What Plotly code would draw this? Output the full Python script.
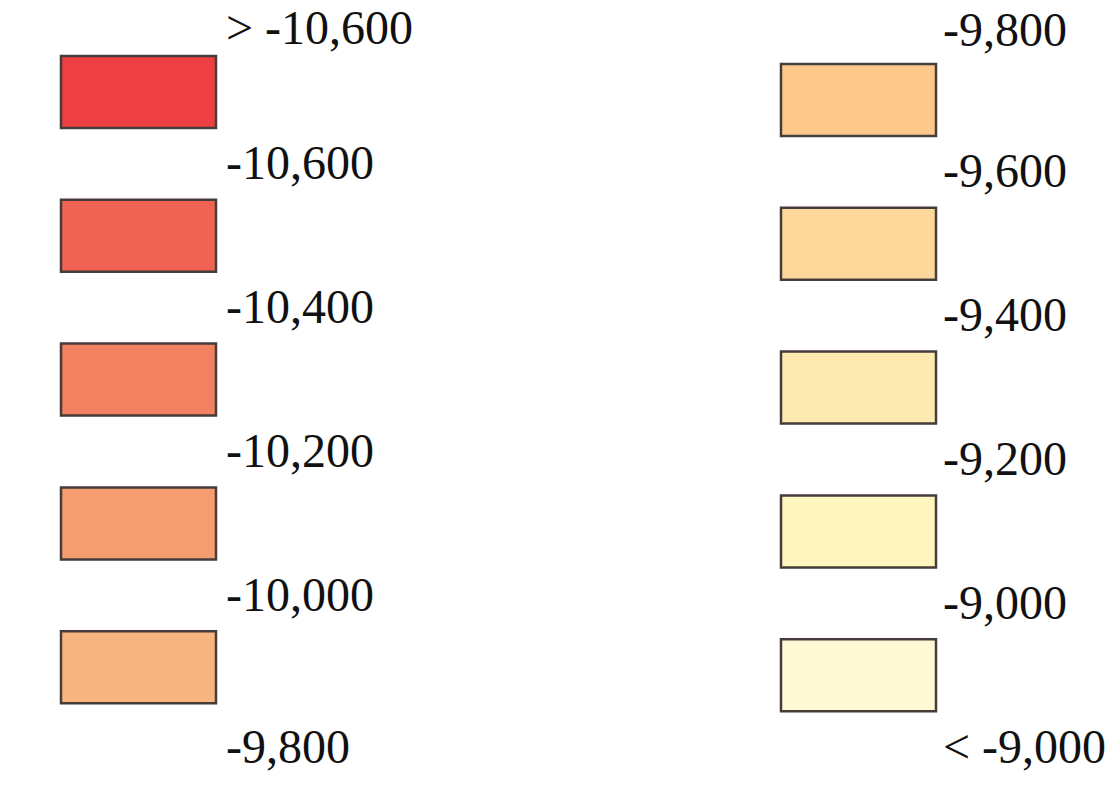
import plotly.graph_objects as go

# ---- data ----
left_labels = ["> -10,600", "-10,600", "-10,400", "-10,200", "-10,000", "-9,800"]
right_labels = ["-9,800", "-9,600", "-9,400", "-9,200", "-9,000", "< -9,000"]
left_colors = ["#EE4044", "#F06353", "#F28162", "#F59C71", "#F8B47F"]
right_colors = ["#FCC98B", "#FDD89A", "#FDEAB0", "#FEF5BF", "#FEF8D4"]

# ---- layout constants (pixel space) ----
W, H = 1108, 809
BOX_W, BOX_H = 155, 72
ROW_STEP = 143.8
columns = [
    dict(x0=61, top0=56, text_x=224, labels=left_labels, colors=left_colors,
         first_label_y=27, last_label_gap=43),
    dict(x0=781, top0=64, text_x=941, labels=right_labels, colors=right_colors,
         first_label_y=29, last_label_gap=35),
]

fig = go.Figure()
shapes = []
annotations = []
for col in columns:
    n = len(col["colors"])
    tops = [col["top0"] + i * ROW_STEP for i in range(n)]
    for i, c in enumerate(col["colors"]):
        shapes.append(dict(type="rect", xref="x", yref="y",
                           x0=col["x0"], x1=col["x0"] + BOX_W,
                           y0=tops[i], y1=tops[i] + BOX_H,
                           fillcolor=c, line=dict(color="#463c3a", width=2.5)))
    label_ys = [col["first_label_y"]] + [t - 37 for t in tops[1:]] + [tops[-1] + BOX_H + col["last_label_gap"]]
    for lab, y in zip(col["labels"], label_ys):
        annotations.append(dict(x=col["text_x"], y=y, xref="x", yref="y", text=lab,
                                showarrow=False, xanchor="left", yanchor="middle",
                                font=dict(family="Liberation Serif", size=48, color="#111111")))

fig.add_trace(go.Scatter(x=[0, W], y=[0, H], mode="markers",
                         marker=dict(opacity=0), hoverinfo="skip", showlegend=False))
fig.update_layout(width=W, height=H,
                  margin=dict(l=0, r=0, t=0, b=0),
                  paper_bgcolor="white", plot_bgcolor="white",
                  shapes=shapes, annotations=annotations, showlegend=False,
                  xaxis=dict(range=[0, W], visible=False, fixedrange=True),
                  yaxis=dict(range=[H, 0], visible=False, fixedrange=True))
fig.write_html("out.html", config={"displayModeBar": False},
               post_script="document.body.style.margin='0';document.body.style.overflow='hidden';")
